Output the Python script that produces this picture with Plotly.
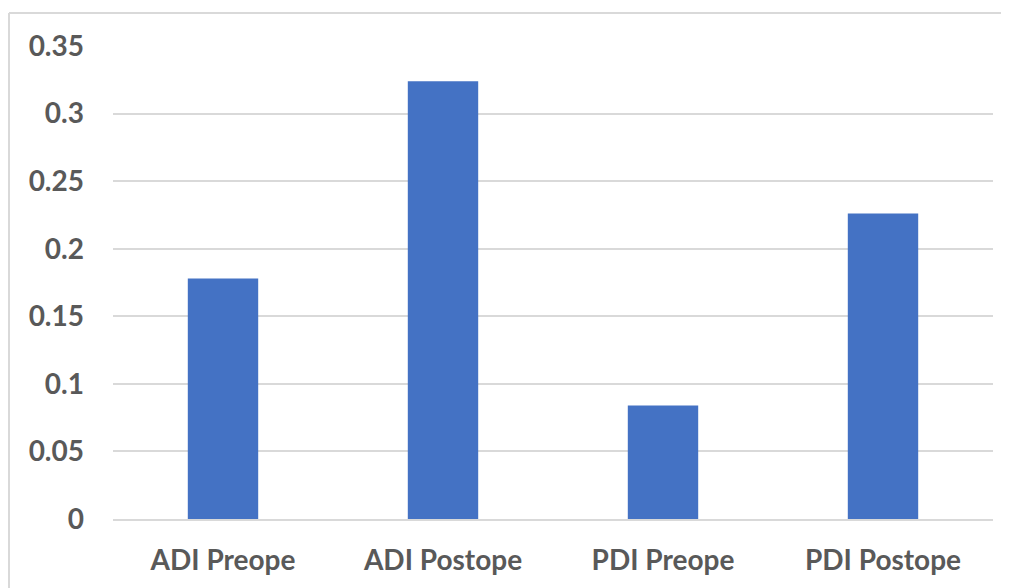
import plotly.graph_objects as go

categories = ["ADI Preope", "ADI Postope", "PDI Preope", "PDI Postope"]
values = [0.178, 0.324, 0.084, 0.226]
tick_vals = [0, 0.05, 0.1, 0.15, 0.2, 0.25, 0.3, 0.35]
tick_text = ["0", "0.05", "0.1", "0.15", "0.2", "0.25", "0.3", "0.35"]

# page body has an 8px margin, so the figure is offset by 8px
W, H = 1001, 580
L, R, T, B = 105, 16, 38, 69
pw, ph = W - L - R, H - T - B

fig = go.Figure(go.Bar(x=categories, y=values, marker=dict(color="#4472C4", line=dict(width=0)),
                       width=0.32))

tf = dict(family="Lato", size=28, color="#595959", weight="bold")
bx0 = (1 - L) / pw
by1 = (H - B - 5) / ph
border = dict(color="#d9d9d9", width=2)
fig.update_layout(
    width=W, height=H,
    margin=dict(l=L, r=R, t=T, b=B, autoexpand=False),
    paper_bgcolor="white", plot_bgcolor="white",
    showlegend=False,
    xaxis=dict(showgrid=False, showline=True, linecolor="#d9d9d9", linewidth=2,
               ticks="", tickfont=tf, ticklabelstandoff=15),
    yaxis=dict(range=[0, 0.35], tickvals=tick_vals, ticktext=tick_text,
               showgrid=True, gridcolor="#d9d9d9", gridwidth=2, zeroline=False,
               showline=False, ticks="", tickfont=tf, ticklabelstandoff=28),
    shapes=[
        dict(type="line", xref="paper", yref="paper", x0=bx0, x1=2.0, y0=by1, y1=by1,
             line=border, layer="below"),
        dict(type="line", xref="paper", yref="paper", x0=bx0, x1=bx0, y0=-0.5, y1=by1,
             line=border, layer="below"),
    ],
)

fig.write_html("out.html")
